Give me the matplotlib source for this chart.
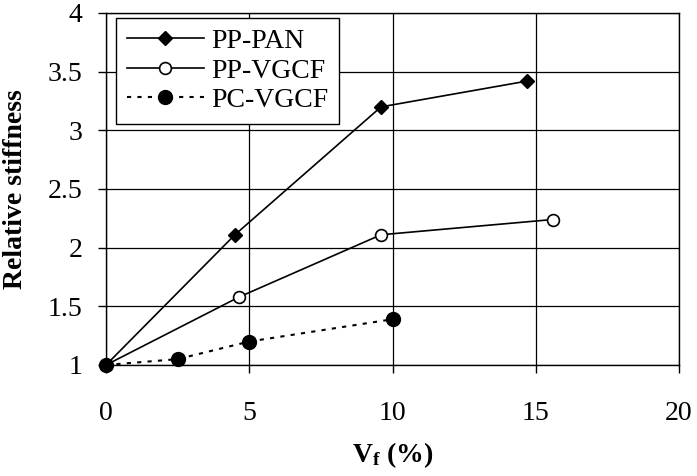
import matplotlib
matplotlib.use("Agg")
import matplotlib.pyplot as plt

plt.rcParams['font.family'] = ['Liberation Serif', 'DejaVu Serif']
plt.rcParams['mathtext.fontset'] = 'custom'
plt.rcParams['mathtext.rm'] = 'Liberation Serif'
plt.rcParams['mathtext.bf'] = 'Liberation Serif:bold'

# Data
pp_pan_x = [0, 4.5, 9.6, 14.7]
pp_pan_y = [1.0, 2.11, 3.20, 3.42]
pp_vgcf_x = [0, 4.65, 9.6, 15.6]
pp_vgcf_y = [1.0, 1.58, 2.11, 2.24]
pc_vgcf_x = [0, 2.5, 5.0, 10.0]
pc_vgcf_y = [1.0, 1.05, 1.20, 1.39]
x_ticks = [0, 5, 10, 15, 20]
y_ticks = [1, 1.5, 2, 2.5, 3, 3.5, 4]
y_tick_labels = ['1', '1.5', '2', '2.5', '3', '3.5', '4']

fig = plt.figure(figsize=(6.97, 4.76), dpi=100)
ax = fig.add_axes([106/697, (476-365)/476, (679-106)/697, (365-13)/476])

ax.plot(pp_pan_x, pp_pan_y, color='black', lw=1.2, marker='D', markersize=7.5,
        markerfacecolor='black', markeredgecolor='black', label='PP-PAN', zorder=3, clip_on=False)
ax.plot(pp_vgcf_x, pp_vgcf_y, color='black', lw=1.2, marker='o', markersize=8.5,
        markerfacecolor='white', markeredgecolor='black', markeredgewidth=1.2,
        label='PP-VGCF', zorder=3, clip_on=False)
ax.plot(pc_vgcf_x, pc_vgcf_y, color='black', lw=1.5, linestyle=(0, (2, 3)), marker='o',
        markersize=10, markerfacecolor='black', markeredgecolor='black',
        label='PC-VGCF', zorder=4, clip_on=False)

ax.set_xlim(0, 20)
ax.set_ylim(1, 4)
ax.set_xticks(x_ticks)
ax.set_yticks(y_ticks)
ax.set_yticklabels(y_tick_labels)
ax.grid(True, color='black', lw=0.9)
ax.set_axisbelow(True)
for s in ax.spines.values():
    s.set_color('black')
    s.set_linewidth(1.0)

ax.tick_params(axis='both', direction='out', length=6, width=1.0, labelsize=20, colors='black')
ax.tick_params(axis='x', pad=20)
ax.tick_params(axis='y', pad=11)

ax.set_ylabel('Relative stiffness', fontsize=20, fontweight='bold', labelpad=14)
ax.set_xlabel(r'$\mathbf{V_f}$ (%)', fontsize=20, fontweight='bold', labelpad=10)

leg = ax.legend(loc='upper left', bbox_to_anchor=(10/573, 1 - 5/352), fontsize=20,
                frameon=True, fancybox=False, shadow=False, framealpha=1,
                edgecolor='black', handlelength=2.8, handletextpad=0.25,
                labelspacing=0.15, borderpad=0.38, borderaxespad=0)
leg.get_frame().set_linewidth(1.0)

fig.savefig('out.png', dpi=100)
